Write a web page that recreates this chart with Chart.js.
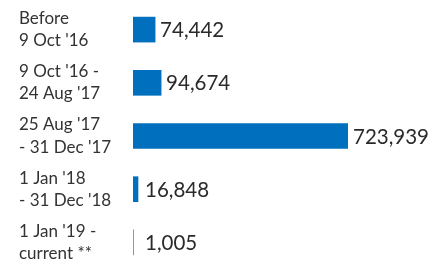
<!DOCTYPE html>
<html>
<head>
<meta charset="utf-8">
<script src="https://cdn.jsdelivr.net/npm/chart.js@4/dist/chart.umd.min.js"></script>
<style>
  html, body { margin: 0; padding: 0; background: #ffffff; }
  #wrap { width: 444px; height: 269px; position: relative; }
</style>
</head>
<body>
<div id="wrap"><canvas id="c"></canvas></div>
<script>
const categories = [
  ["Before", "9 Oct '16"],
  ["9 Oct '16 -", "24 Aug '17"],
  ["25 Aug '17", "- 31 Dec '17"],
  ["1 Jan '18", "- 31 Dec '18"],
  ["1 Jan '19 -", "current **"]
];
const values = [74442, 94674, 723939, 16848, 1005];
const valueLabels = ["74,442", "94,674", "723,939", "16,848", "1,005"];

const FONT = "Lato, 'Open Sans', sans-serif";

const valuePlugin = {
  id: 'valueLabels',
  afterDatasetsDraw(chart) {
    const ctx = chart.ctx;
    const meta = chart.getDatasetMeta(0);
    ctx.save();
    ctx.font = "20.5px " + FONT;
    ctx.fillStyle = "#2a2a2a";
    ctx.textAlign = "left";
    ctx.textBaseline = "middle";
    meta.data.forEach((bar, i) => {
      const x = Math.max(bar.x, 140) + 5;
      ctx.fillText(valueLabels[i], x, bar.y + 1);
    });
    ctx.restore();
  }
};

new Chart(document.getElementById('c'), {
  type: 'bar',
  data: {
    labels: categories,
    datasets: [{
      data: values,
      backgroundColor: '#0070be',
      borderWidth: 0,
      barThickness: 25
    }]
  },
  options: {
    indexAxis: 'y',
    responsive: true,
    maintainAspectRatio: false,
    animation: false,
    layout: { padding: { left: 19, right: 96, top: 3, bottom: 0 } },
    plugins: { legend: { display: false }, tooltip: { enabled: false } },
    scales: {
      x: {
        display: false,
        min: 0,
        max: 723939
      },
      y: {
        grid: { display: false },
        border: { display: false },
        ticks: {
          crossAlign: 'far',
          color: '#333333',
          padding: 0,
          font: { family: FONT, size: 17, lineHeight: 1.3 }
        },
        afterFit(scale) {
          scale.width = 114;
          scale.paddingTop = 0;
          scale.paddingBottom = 0;
        }
      }
    }
  },
  plugins: [valuePlugin]
});
</script>
</body>
</html>
